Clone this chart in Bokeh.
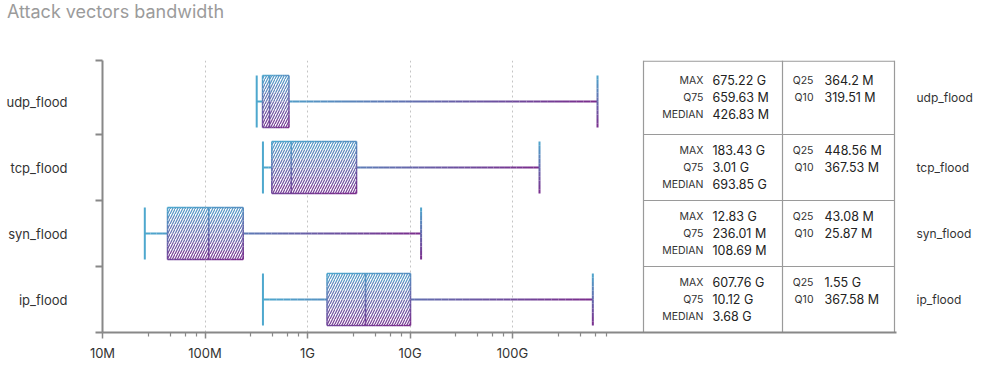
import math
from bokeh.plotting import figure
from bokeh.layouts import column
from bokeh.models import Range1d, LinearScale, LinearAxis, FixedTicker, Div
from bokeh.embed import file_html
from bokeh.resources import INLINE
from bokeh.core.properties import value

# ---------------- data ----------------
categories = ["udp_flood", "tcp_flood", "syn_flood", "ip_flood"]
q10 = [319.51e6, 367.53e6, 25.87e6, 367.58e6]
q25 = [364.2e6, 448.56e6, 43.08e6, 1.55e9]
median = [426.83e6, 693.85e6, 108.69e6, 3.68e9]
q75 = [659.63e6, 3.01e9, 236.01e6, 10.12e9]
maxv = [675.22e9, 183.43e9, 12.83e9, 607.76e9]

max_text = ["675.22 G", "183.43 G", "12.83 G", "607.76 G"]
q75_text = ["659.63 M", "3.01 G", "236.01 M", "10.12 G"]
median_text = ["426.83 M", "693.85 G", "108.69 M", "3.68 G"]
q25_text = ["364.2 M", "448.56 M", "43.08 M", "1.55 G"]
q10_text = ["319.51 M", "367.53 M", "25.87 M", "367.58 M"]

tick_values = [1e7, 1e8, 1e9, 1e10, 1e11]
tick_labels = ["10M", "100M", "1G", "10G", "100G"]

# ---------------- layout / style ----------------
FONT = "Inter"
TITLE_H = 24
ML, MR, MT, MB = 102, 82, 36, 45
FRAME_W, FRAME_H = 794, 272
PX_PER_DEC = 102.5
UNIT = 66.0
y_top = FRAME_H / UNIT
x_start = 1e7
x_end = 10 ** (7 + FRAME_W / PX_PER_DEC)
HB = 0.395
BLUE = (0x4e, 0xa8, 0xce)
PURPLE = (0x7b, 0x2c, 0x8c)


def mix(t):
    t = min(max(t, 0.0), 1.0)
    c = [round(BLUE[k] + (PURPLE[k] - BLUE[k]) * t) for k in range(3)]
    return "#%02x%02x%02x" % tuple(c)


n = len(categories)
ycenter = [n - i - 0.5 for i in range(n)]
row_lo = [n - i - 1 for i in range(n)]
row_hi = [n - i for i in range(n)]
row_hi[0] = y_top
row_c = [(a + b) / 2 for a, b in zip(row_lo, row_hi)]

p = figure(frame_width=FRAME_W, frame_height=FRAME_H, x_axis_type="log",
           x_range=Range1d(x_start, x_end), y_range=Range1d(0, y_top),
           output_backend="svg", toolbar_location=None,
           min_border_left=ML, min_border_right=MR,
           min_border_top=MT, min_border_bottom=MB)
p.outline_line_color = None
p.background_fill_color = "white"
p.border_fill_color = "white"

# x axis
minor = []
for d in range(7, 12):
    b = 10.0 ** d
    minor += [b + k * 9 * b / 5 for k in range(1, 5)]
xa = p.xaxis[0]
xa.ticker = FixedTicker(ticks=tick_values, minor_ticks=minor)
xa.major_label_overrides = dict(zip(tick_values, tick_labels))
xa.axis_line_color = "#888888"
xa.axis_line_width = 2
xa.major_tick_line_color = "#888888"
xa.major_tick_line_width = 1.5
xa.major_tick_out = 6
xa.major_tick_in = 0
xa.minor_tick_line_color = "#888888"
xa.minor_tick_line_width = 1.2
xa.minor_tick_out = 4
xa.minor_tick_in = 0
xa.major_label_text_font = FONT
xa.major_label_text_font_size = "13px"
xa.major_label_text_color = "#333333"
xa.major_label_standoff = 6

p.xgrid.ticker = FixedTicker(ticks=tick_values)
p.xgrid.grid_line_color = "#c4c4c4"
p.xgrid.grid_line_dash = "2 3"
p.xgrid.grid_line_width = 1
p.ygrid.visible = False

# left y axis
ya = p.yaxis[0]
ya.ticker = FixedTicker(ticks=ycenter, minor_ticks=[0, 1, 2, 3, y_top])
ya.major_label_overrides = dict(zip(ycenter, categories))
ya.axis_line_color = "#888888"
ya.axis_line_width = 2
ya.major_tick_out = 0
ya.major_tick_in = 0
ya.major_tick_line_alpha = 0
ya.minor_tick_out = 7
ya.minor_tick_in = 0
ya.minor_tick_line_color = "#888888"
ya.minor_tick_line_width = 2
ya.major_label_text_font = FONT
ya.major_label_text_font_size = "13px"
ya.major_label_text_color = "#333333"
ya.major_label_standoff = 28

# right labels
ra = LinearAxis(ticker=FixedTicker(ticks=row_c),
                major_label_overrides=dict(zip(row_c, categories)))
ra.axis_line_alpha = 0
ra.major_tick_line_alpha = 0
ra.minor_tick_line_alpha = 0
ra.major_tick_out = 0
ra.major_tick_in = 0
ra.major_label_text_font = FONT
ra.major_label_text_font_size = "12px"
ra.major_label_text_color = "#333333"
ra.major_label_standoff = 20
p.add_layout(ra, "right")

# ---------------- box plots ----------------
segs = dict(x0=[], y0=[], x1=[], y1=[], c=[], w=[])
bands = dict(l=[], r=[], t=[], b=[], hc=[])
edges = dict(x0=[], y0=[], x1=[], y1=[], c=[], w=[])


def add(store, x0, y0, x1, y1, t, w):
    store["x0"].append(x0); store["y0"].append(y0)
    store["x1"].append(x1); store["y1"].append(y1)
    store["c"].append(mix(t)); store["w"].append(w)


box_top = [c + HB for c in ycenter]
box_bot = [c - HB for c in ycenter]

for i in range(n):
    yc = ycenter[i]
    top, bot = box_top[i], box_bot[i]
    lo, hi = math.log10(q10[i]), math.log10(maxv[i])
    span = hi - lo
    N = 48
    for k in range(N):
        a = lo + span * k / N
        b = lo + span * (k + 1) / N
        add(segs, 10 ** a, yc, 10 ** b, yc, (k + 0.5) / N, 2)
    add(segs, q10[i], bot, q10[i], top, 0.0, 2)
    M = 12
    for k in range(M):
        ya0 = top - 2 * HB * k / M
        ya1 = top - 2 * HB * (k + 1) / M
        add(segs, maxv[i], ya0, maxv[i], ya1, (k + 0.5) / M, 2)

    NY = 6
    for iy in range(NY):
        yt = top - 2 * HB * iy / NY
        yb = top - 2 * HB * (iy + 1) / NY
        v = (iy + 0.5) / NY
        bands["l"].append(q25[i]); bands["r"].append(q75[i])
        bands["t"].append(yt); bands["b"].append(yb)
        bands["hc"].append(mix(0.85 * v + 0.08))

    bl, br = math.log10(q25[i]), math.log10(q75[i])
    E = 12
    um = (math.log10(median[i]) - bl) / (br - bl)
    for k in range(E):
        xa0 = bl + (br - bl) * k / E
        xa1 = bl + (br - bl) * (k + 1) / E
        u = (k + 0.5) / E
        add(edges, 10 ** xa0, top, 10 ** xa1, top, 0.2 * u, 1.5)
        add(edges, 10 ** xa0, bot, 10 ** xa1, bot, 0.8 + 0.2 * u, 1.5)
        ya0 = top - 2 * HB * k / E
        ya1 = top - 2 * HB * (k + 1) / E
        v = (k + 0.5) / E
        add(edges, q25[i], ya0, q25[i], ya1, 0.8 * v, 1.5)
        add(edges, q75[i], ya0, q75[i], ya1, 0.8 * v + 0.2, 1.5)
        add(edges, median[i], ya0, median[i], ya1, 0.8 * v + 0.2 * um, 1.5)

p.segment(x0="x0", y0="y0", x1="x1", y1="y1", line_color="c",
          line_width="w", source=segs)
# white box body, then gradient hatch bands on top (no fill, so no seams)
p.quad(left=q25, right=q75, top=box_top, bottom=box_bot,
       fill_color="white", line_alpha=0)
p.quad(left="l", right="r", top="t", bottom="b", source=bands,
       fill_alpha=0, line_alpha=0,
       hatch_pattern="/", hatch_color="hc", hatch_scale=5, hatch_weight=1.2)
p.segment(x0="x0", y0="y0", x1="x1", y1="y1", line_color="c",
          line_width="w", source=edges)

# ---------------- stats table ----------------
p.extra_x_ranges = {"tab": Range1d(0, FRAME_W)}
p.extra_x_scales = {"tab": LinearScale()}
T_LEFT, T_MID, T_RIGHT = 541, 680, 792
K1, V1, K2, V2 = 601, 610, 711, 722
DY = 17 / UNIT

hx0, hy0, hx1, hy1 = [], [], [], []
for yv in [0, 1, 2, 3, y_top - 0.01]:
    hx0.append(T_LEFT); hx1.append(T_RIGHT); hy0.append(yv); hy1.append(yv)
for xv in [T_LEFT, T_MID, T_RIGHT]:
    hx0.append(xv); hx1.append(xv); hy0.append(0); hy1.append(y_top)
p.segment(x0=hx0, y0=hy0, x1=hx1, y1=hy1, line_color="#9a9a9a",
          line_width=1.2, x_range_name="tab")

key_style = dict(x_range_name="tab", text_align="right", text_baseline="middle",
                 text_font=value(FONT), text_font_size="10.5px", text_color="#333333")
val_style = dict(x_range_name="tab", text_align="left", text_baseline="middle",
                 text_font=value(FONT), text_font_size="12.5px", text_color="#222222")

p.text(x=[K1] * n, y=[c + DY for c in row_c], text=["MAX"] * n, **key_style)
p.text(x=[K1] * n, y=row_c, text=["Q75"] * n, **key_style)
p.text(x=[K1] * n, y=[c - DY for c in row_c], text=["MEDIAN"] * n, **key_style)
p.text(x=[V1] * n, y=[c + DY for c in row_c], text=max_text, **val_style)
p.text(x=[V1] * n, y=row_c, text=q75_text, **val_style)
p.text(x=[V1] * n, y=[c - DY for c in row_c], text=median_text, **val_style)
p.text(x=[K2] * n, y=[c + DY for c in row_c], text=["Q25"] * n, **key_style)
p.text(x=[K2] * n, y=row_c, text=["Q10"] * n, **key_style)
p.text(x=[V2] * n, y=[c + DY for c in row_c], text=q25_text, **val_style)
p.text(x=[V2] * n, y=row_c, text=q10_text, **val_style)

# ---------------- title ----------------
title = Div(text="Attack vectors bandwidth", width=400, height=TITLE_H,
            margin=(0, 0, 0, 7),
            styles={"font-family": "Inter", "font-size": "18px",
                    "color": "#9b9b9b", "line-height": "%dpx" % TITLE_H})

layout = column(title, p, spacing=0)
open("out.html", "w").write(file_html(layout, INLINE, "Attack vectors bandwidth"))
